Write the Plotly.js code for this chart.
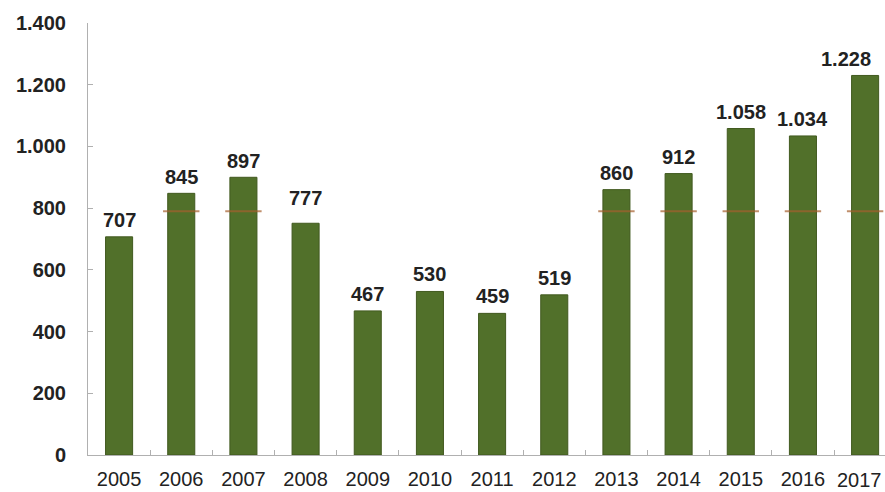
<!DOCTYPE html>
<html>
<head>
<meta charset="utf-8">
<script src="https://cdn.plot.ly/plotly-3.0.1.min.js"></script>
<style>html,body{margin:0;padding:0;background:#fff;}#chart{width:885px;height:492px;}</style>
</head>
<body>
<div id="chart"></div>
<script>
var years = ['2005','2006','2007','2008','2009','2010','2011','2012','2013','2014','2015','2016','2017'];
// bar heights as drawn
var barHeights = [707, 848, 900, 751, 467, 530, 459, 519, 860, 912, 1058, 1034, 1230];
// printed data labels
var labelValues = [707, 845, 897, 777, 467, 530, 459, 519, 860, 912, 1058, 1034, 1228];
var refLevel = 790;
var yTicks = [0, 200, 400, 600, 800, 1000, 1200, 1400];

function fmt(v){ return String(v).replace(/\B(?=(\d{3})+(?!\d))/g, '.'); }

var last = years.length - 1;
var refX = [], refY = [];
for (var i = 0; i < years.length; i++) {
  if (barHeights[i] > refLevel) { refX.push(years[i]); refY.push(refLevel); }
}

// last tick label is drawn as an annotation so it can sit flush with the right edge
var tickText = years.map(function(y, i){ return i === last ? '' : y; });

var traces = [
  {
    type: 'bar', x: years, y: barHeights,
    marker: {color: '#51702a', line: {color: '#41591f', width: 1}},
    hoverinfo: 'none'
  },
  {
    type: 'scatter', mode: 'markers', x: refX, y: refY,
    marker: {symbol: 'line-ew', size: 26, line: {color: 'rgba(165,95,45,0.7)', width: 2}},
    hoverinfo: 'none'
  }
];

var annotations = years.map(function(y, i){
  return {x: i, y: labelValues[i], xref: 'x', yref: 'y',
    text: fmt(labelValues[i]), showarrow: false,
    yanchor: 'bottom', xanchor: 'center', yshift: 4, xshift: i === last ? -19 : 0,
    font: {family: 'Liberation Sans, Arial, sans-serif', size: 20, color: '#222', weight: 'bold'}};
});
annotations.push({
  x: last, xref: 'x', y: 0, yref: 'paper', text: years[last], showarrow: false,
  xanchor: 'center', yanchor: 'middle', xshift: -6, yshift: -25,
  font: {family: 'Liberation Sans, Arial, sans-serif', size: 20, color: '#222'}
});

var layout = {
  width: 885, height: 492,
  margin: {l: 88, r: 0, t: 23, b: 37, pad: 0},
  paper_bgcolor: '#fff', plot_bgcolor: '#fff',
  showlegend: false,
  separators: ',.',
  bargap: 0.565,
  font: {family: 'Liberation Sans, Arial, sans-serif', color: '#222'},
  xaxis: {
    type: 'category', range: [-0.5, 12.32],
    tickmode: 'array', tickvals: years, ticktext: tickText,
    showline: true, linecolor: '#b0b0b0', linewidth: 1,
    ticks: 'inside', ticklen: 5, tickcolor: '#b0b0b0', tickson: 'boundaries',
    showgrid: false, zeroline: false,
    tickfont: {size: 20, color: '#222'},
    ticklabelstandoff: 6
  },
  yaxis: {
    range: [0, 1400], tickvals: yTicks, tickformat: ',d',
    showline: true, linecolor: '#b0b0b0', linewidth: 1,
    ticks: 'inside', ticklen: 5, tickcolor: '#b0b0b0',
    showgrid: false, zeroline: false,
    tickfont: {size: 20, color: '#222', weight: 'bold'},
    ticklabelstandoff: 17
  },
  annotations: annotations
};

Plotly.newPlot('chart', traces, layout, {displayModeBar: false, staticPlot: true});
</script>
</body>
</html>
